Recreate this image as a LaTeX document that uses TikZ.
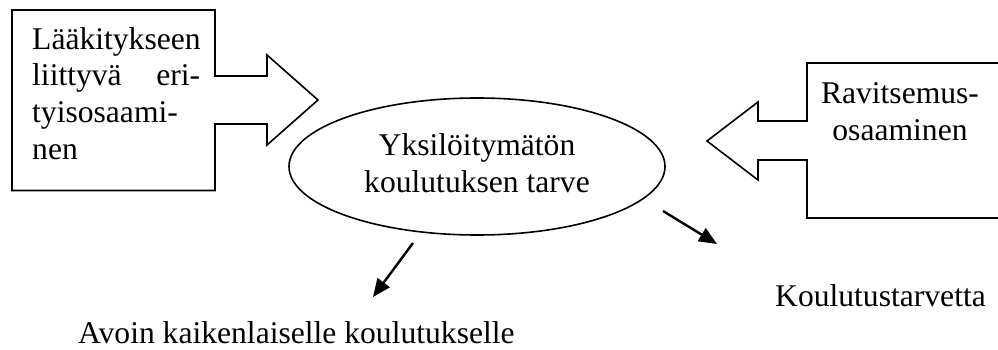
\documentclass[tikz,border=0pt]{standalone}
\usepackage{fontspec}
\setmainfont{Liberation Serif}
\usetikzlibrary{shapes.geometric,arrows.meta}

\tikzset{
  outline/.style={draw=black, line width=1.6pt, line join=miter},
  txt/.style={font=\fontsize{31.6}{37}\selectfont, inner sep=0pt},
  flow/.style={draw=black, line width=2.4pt, -{Triangle[length=18pt,width=15pt]}},
}

\begin{document}
\begin{tikzpicture}[x=1pt, y=-1pt]
  \useasboundingbox (0,0) rectangle (998,350);
  \clip (0,0) rectangle (998,350);

  % left box with arrow pointing right
  \draw[outline] (12,10) -- (215,10) -- (215,76) -- (267,76) -- (267,55)
    -- (318,100) -- (267,145) -- (267,124) -- (215,124) -- (215,190.5)
    -- (12,190.5) -- cycle;
  % anchored at the baseline of the last line
  \node[txt, anchor=base west, align=left] (medtxt) at (32,160)
    {Lääkitykseen\\\hbox to 168pt{liittyvä\hfill eri-}\\tyisosaami-\\nen};

  % right box with arrow pointing left (runs off the right edge)
  \draw[outline] (1010,63) -- (807,63) -- (807,121) -- (758,121) -- (758,102)
    -- (707,141) -- (758,180) -- (758,160) -- (807,160) -- (807,218)
    -- (1010,218);
  \node[txt, anchor=base, align=center] (nutrtxt) at (900,141)
    {Ravitsemus-\\osaaminen};

  % central ellipse
  \node[outline, ellipse, minimum width=376pt, minimum height=137pt,
        inner sep=0pt] (need) at (477,166.5) {};
  \node[txt, anchor=base, align=center] (needtxt) at (477,192)
    {Yksilöitymätön\\koulutuksen tarve};

  % outcomes
  \node[txt, anchor=base west] (open) at (78,343)
    {Avoin kaikenlaiselle koulutukselle};
  \node[txt, anchor=base west] (demand) at (775,306) {Koulutustarvetta};

  \coordinate (s1) at (413,243);
  \coordinate (e1) at (373,297);
  \coordinate (s2) at (663,211);
  \coordinate (e2) at (717,244);
  \draw[flow] (s1) -- (e1);
  \draw[flow] (s2) -- (e2);
\end{tikzpicture}
\end{document}
